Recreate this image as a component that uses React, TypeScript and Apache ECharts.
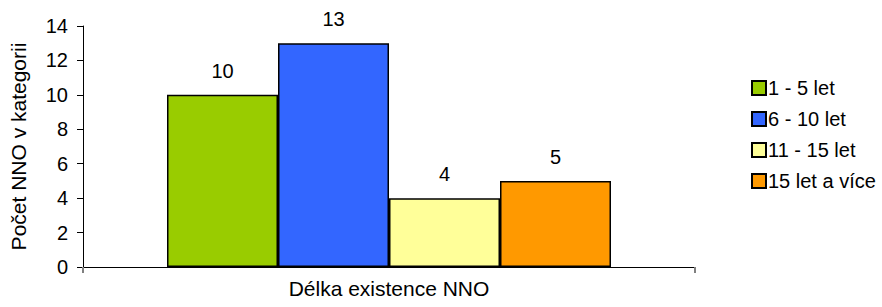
import React, { useEffect, useRef } from "react";
import * as echarts from "echarts";

const categories = ["Délka existence NNO"];
const seriesNames = ["1 - 5 let", "6 - 10 let", "11 - 15 let", "15 let a více"];
const seriesValues = [10, 13, 4, 5];
const seriesColors = ["#99CC00", "#3366FF", "#FFFF99", "#FF9900"];
const yTicks = { min: 0, max: 14, interval: 2 };

const FONT = "'Liberation Sans', Arial, sans-serif";

export default function App() {
  const ref = useRef<HTMLDivElement>(null);
  useEffect(() => {
    if (!ref.current) return;
    const chart = echarts.init(ref.current, undefined, { renderer: "svg" });
    chart.setOption({
      animation: false,
      textStyle: { fontFamily: FONT, color: "#000" },
      grid: { left: 81, right: 187, top: 26, bottom: 40, containLabel: false },
      legend: {
        orient: "vertical",
        left: 746,
        top: 73,
        itemWidth: 14,
        itemHeight: 14,
        itemGap: 11,
        icon: "rect",
        textStyle: { fontFamily: FONT, fontSize: 20, color: "#000", padding: [0, 0, 0, -3] },
        itemStyle: { borderColor: "#000", borderWidth: 2 },
        data: seriesNames,
      },
      xAxis: {
        type: "category",
        data: categories,
        name: categories[0],
        nameLocation: "middle",
        nameGap: 11,
        nameTextStyle: { fontFamily: FONT, fontSize: 21, color: "#000" },
        axisLine: { lineStyle: { color: "#000", width: 1 } },
        axisTick: { show: true, length: 6, lineStyle: { color: "#808080", width: 2 } },
        axisLabel: { show: false },
      },
      yAxis: {
        type: "value",
        min: yTicks.min,
        max: yTicks.max,
        interval: yTicks.interval,
        name: "Počet NNO v kategorii",
        nameLocation: "middle",
        nameGap: 54,
        nameRotate: 90,
        nameTextStyle: { fontFamily: FONT, fontSize: 21, color: "#000" },
        axisLine: { show: true, lineStyle: { color: "#000", width: 1 } },
        axisTick: { show: true, length: 6, lineStyle: { color: "#000" } },
        axisLabel: { fontFamily: FONT, fontSize: 20, color: "#000", margin: 15 },
        splitLine: { show: false },
      },
      series: seriesNames.map((name, i) => ({
        type: "bar",
        name,
        data: [seriesValues[i]],
        barWidth: 111,
        barGap: "0%",
        itemStyle: { color: seriesColors[i], borderColor: "#000", borderWidth: 1.5 },
        label: {
          show: true,
          position: "top",
          distance: 14,
          fontFamily: FONT,
          fontSize: 20,
          color: "#000",
        },
      })),
    });
    return () => chart.dispose();
  }, []);
  return (
    <div
      ref={ref}
      style={{ position: "absolute", left: 0, top: 0, width: 882, height: 307 }}
    />
  );
}
